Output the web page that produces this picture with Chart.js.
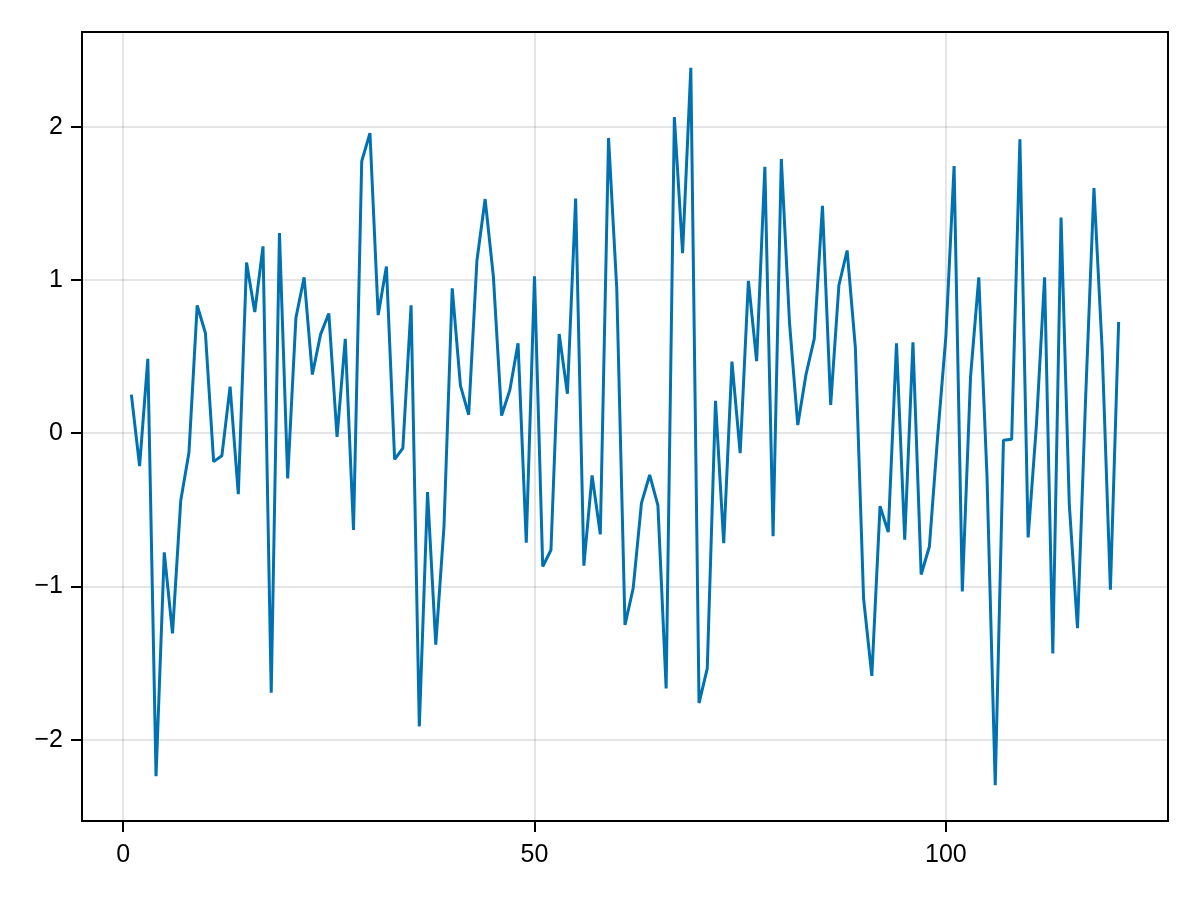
<!DOCTYPE html>
<html>
<head>
<meta charset="utf-8">
<script src="https://cdn.jsdelivr.net/npm/chart.js@4.4.1/dist/chart.umd.min.js"></script>
<style>
  html, body { margin: 0; padding: 0; background: #ffffff; }
  #chart { display: block; }
</style>
</head>
<body>
<canvas id="chart" width="1200" height="900"></canvas>
<script>
// values, one per step 1..121
const seriesValues = [
  0.254, -0.213, 0.487, -2.239, -0.776, -1.306, -0.44, -0.125, 0.837, 0.656,
  -0.184, -0.146, 0.306, -0.397, 1.117, 0.793, 1.222, -1.694, 1.309, -0.294,
  0.755, 1.020, 0.385, 0.647, 0.784, -0.023, 0.618, -0.630, 1.778, 1.962,
  0.773, 1.090, -0.169, -0.096, 0.837, -1.913, -0.382, -1.379, -0.606, 0.948,
  0.312, 0.122, 1.128, 1.531, 1.026, 0.117, 0.283, 0.589, -0.714, 1.026,
  -0.869, -0.761, 0.650, 0.259, 1.534, -0.863, -0.274, -0.659, 1.930, 0.945,
  -1.251, -1.009, -0.455, -0.271, -0.469, -1.665, 2.067, 1.178, 2.388, -1.761,
  -1.534, 0.213, -0.717, 0.469, -0.128, 0.997, 0.472, 1.741, -0.671, 1.793,
  0.720, 0.055, 0.385, 0.618, 1.487, 0.187, 0.968, 1.195, 0.560, -1.079,
  -1.583, -0.475, -0.644, 0.589, -0.694, 0.595, -0.921, -0.738, -0.02, 0.633,
  1.746, -1.032, 0.370, 1.020, -0.28, -2.297, -0.044, -0.038, 1.921, -0.679,
  0.05, 1.020, -1.437, 1.411, -0.461, -1.271, 0.25, 1.603, 0.545, -1.020,
  0.729
];
const xValues = seriesValues.map((v, i) => i + 1);

const xTicks = [0, 50, 100];
const yTicks = [-2, -1, 0, 1, 2];

// axis limits with a 5% margin like the original
const xMin = -5, xMax = 127;
const yMin = -2.531, yMax = 2.622;

const points = xValues.map((x, i) => ({ x: x, y: seriesValues[i] }));

const fontFamily = '"Liberation Sans", Arial, Helvetica, sans-serif';

function minusSign(value) {
  return String(value).replace('-', '\u2212');
}

// frame around the plot area
const framePlugin = {
  id: 'frame',
  afterDraw(chart) {
    const a = chart.chartArea;
    const ctx = chart.ctx;
    ctx.save();
    ctx.strokeStyle = '#000000';
    ctx.lineWidth = 2;
    ctx.strokeRect(a.left, a.top, a.right - a.left, a.bottom - a.top);
    ctx.restore();
  }
};

const ctx = document.getElementById('chart').getContext('2d');
new Chart(ctx, {
  type: 'line',
  data: {
    datasets: [{
      data: points,
      borderColor: '#0072b2',
      borderWidth: 3,
      borderJoinStyle: 'bevel',
      pointRadius: 0,
      pointHoverRadius: 0,
      tension: 0,
      fill: false
    }]
  },
  options: {
    responsive: false,
    animation: false,
    devicePixelRatio: 1,
    layout: { padding: { left: 0, top: 32, right: 32, bottom: 0 } },
    plugins: {
      legend: { display: false },
      tooltip: { enabled: false }
    },
    scales: {
      x: {
        type: 'linear',
        min: xMin,
        max: xMax,
        afterBuildTicks: (scale) => { scale.ticks = xTicks.map(v => ({ value: v })); },
        afterFit: (scale) => { scale.height = 79; },
        border: { display: false },
        grid: {
          color: 'rgba(0, 0, 0, 0.1)',
          lineWidth: 2,
          tickColor: '#000000',
          tickWidth: 2,
          tickLength: 11
        },
        ticks: {
          color: '#000000',
          padding: 8,
          maxRotation: 0,
          font: { family: fontFamily, size: 25 },
          callback: (value) => minusSign(value)
        }
      },
      y: {
        type: 'linear',
        min: yMin,
        max: yMax,
        afterBuildTicks: (scale) => { scale.ticks = yTicks.map(v => ({ value: v })); },
        afterFit: (scale) => { scale.width = 82; },
        border: { display: false },
        grid: {
          color: 'rgba(0, 0, 0, 0.1)',
          lineWidth: 2,
          tickColor: '#000000',
          tickWidth: 2,
          tickLength: 11
        },
        ticks: {
          color: '#000000',
          padding: 8,
          font: { family: fontFamily, size: 25 },
          callback: (value) => minusSign(value)
        }
      }
    }
  },
  plugins: [framePlugin]
});
</script>
</body>
</html>
